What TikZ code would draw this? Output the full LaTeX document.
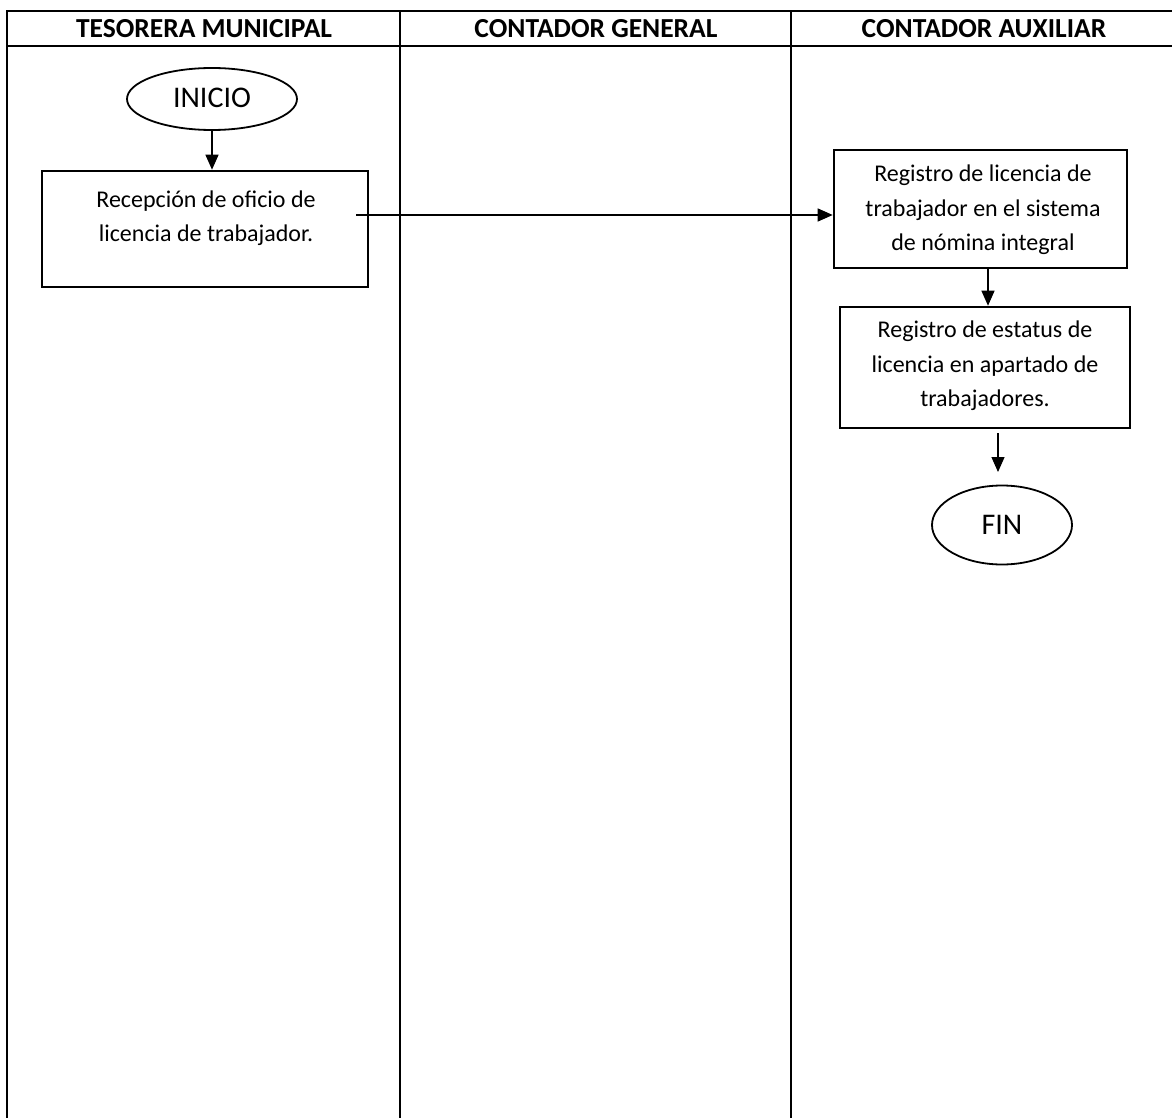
\documentclass[tikz,border=0pt]{standalone}
\usepackage{fontspec}
\setmainfont{Carlito}
\usetikzlibrary{arrows.meta,shapes.geometric,calc}

\tikzset{
  frame/.style={line width=2.2pt},
  boxstyle/.style={draw, line width=2.6pt, rectangle, inner sep=0pt},
  terminal/.style={draw, line width=1.8pt, ellipse, inner sep=0pt, font=\fontsize{30}{34}\selectfont},
  lanehead/.style={font=\bfseries\fontsize{27.5}{32}\selectfont},
  bodytext/.style={align=center, font=\fontsize{24}{34.5}\selectfont},
  flow/.style={line width=1.3pt, -{Triangle[width=13pt,length=15pt]}}
}

\begin{document}
\begin{tikzpicture}[x=1pt,y=-1pt]
  \useasboundingbox (0,0) rectangle (1172,1118);

  % swimlane table (open on the right edge)
  \draw[frame] (7,1118) -- (7,11) -- (1172,11);
  \draw[frame] (7,46) -- (1172,46);
  \draw[frame] (400,11) -- (400,1118);
  \draw[frame] (791,11) -- (791,1118);

  \node[lanehead] (h1) at (204,29) {TESORERA MUNICIPAL};
  \node[lanehead] (h2) at (596,29) {CONTADOR GENERAL};
  \node[lanehead] (h3) at (984,29) {CONTADOR AUXILIAR};

  % start
  \node[terminal, minimum width=170pt, minimum height=62pt] (inicio) at (212,99) {};
  \node[font=\fontsize{30}{34}\selectfont] (tinicio) at (212,98) {INICIO};

  % step boxes
  \node[boxstyle, minimum width=326pt, minimum height=116pt] (box1) at (205,229) {};
  \node[bodytext] (t1) at (206,218) {Recepción de oficio de\\licencia de trabajador.};

  \node[boxstyle, minimum width=293pt, minimum height=118pt] (box2) at (980.5,209) {};
  \node[bodytext] (t2) at (983,210) {Registro de licencia de\\trabajador en el sistema\\de nómina integral};

  \node[boxstyle, minimum width=290pt, minimum height=121pt] (box3) at (985,367.5) {};
  \node[bodytext] (t3) at (985,366) {Registro de estatus de\\licencia en apartado de\\trabajadores.};

  % end
  \node[terminal, minimum width=140pt, minimum height=79pt] (fin) at (1002,525) {FIN};

  % connectors
  \coordinate (s1) at (356,215);
  \coordinate (s2) at (988,268);
  \coordinate (s3) at (998,433);
  \coordinate (e3) at (998,472);

  \draw[flow] (inicio.south) -- (inicio.south |- box1.north);
  \draw[flow] (s1) -- (box2.west |- s1);
  \draw[flow] (s2) -- (s2 |- box3.north);
  \draw[flow] (s3) -- (e3);
\end{tikzpicture}
\end{document}
